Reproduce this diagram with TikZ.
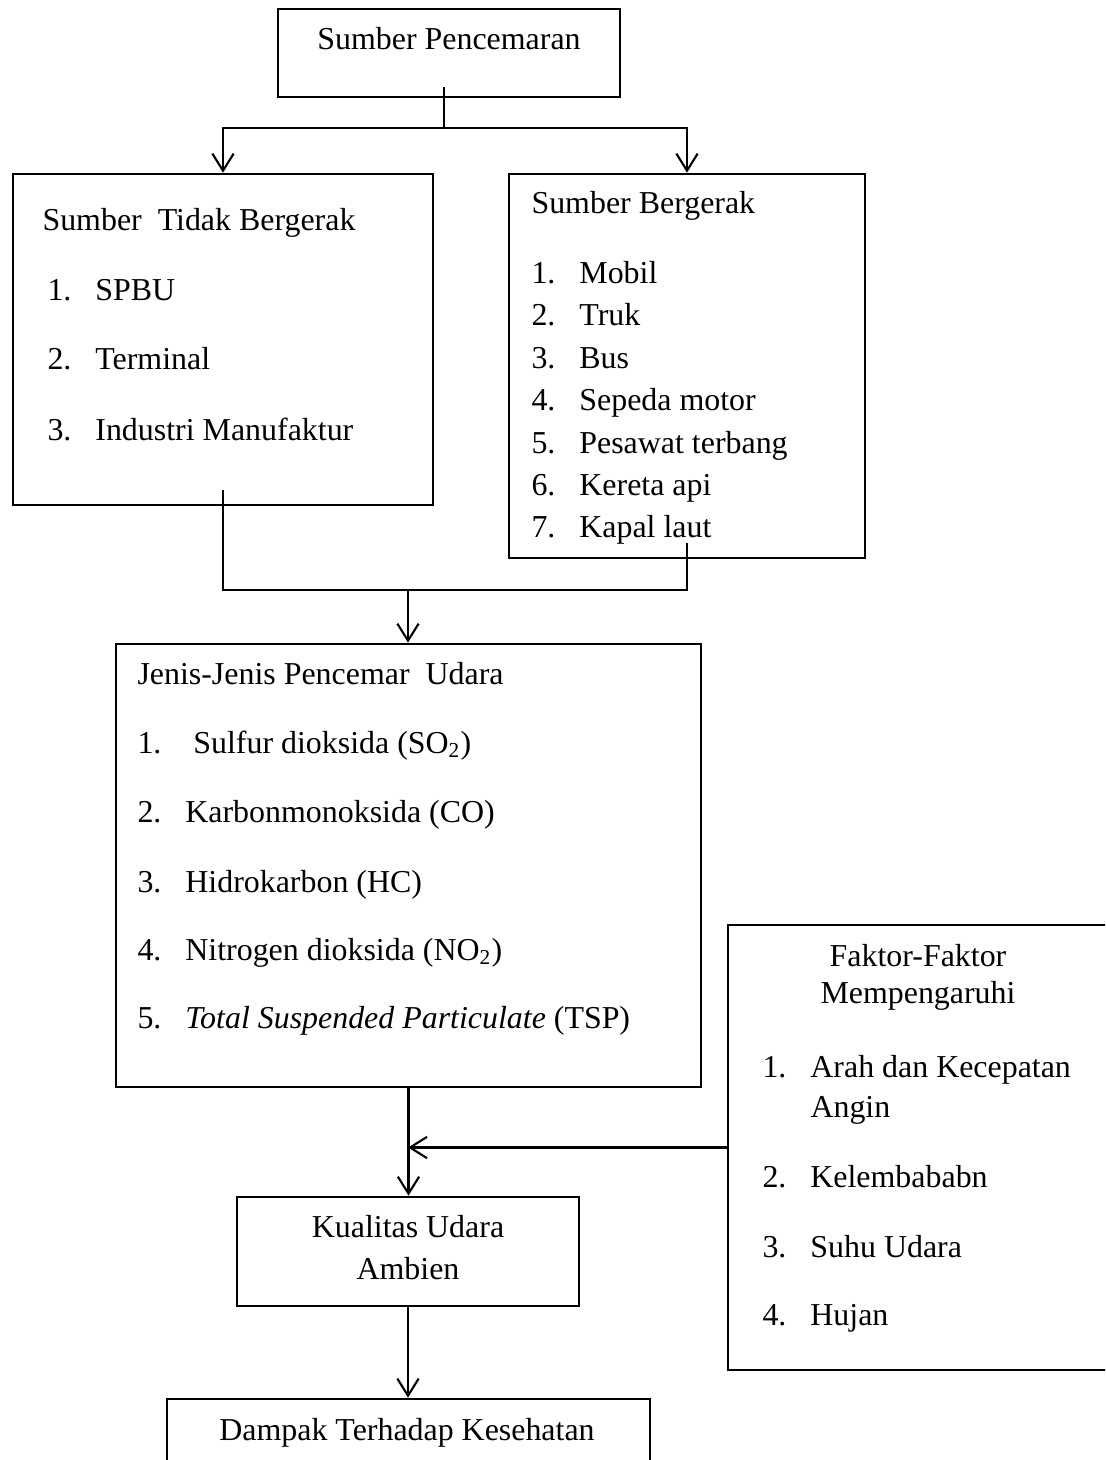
\documentclass[tikz,border=0pt]{standalone}
\usepackage{fontspec}
\setmainfont{Liberation Serif}
\usepackage{tikz}
\usetikzlibrary{arrows.meta,fit,calc}
\newcommand{\itm}[2]{\makebox[18pt][l]{#1}#2}
\tikzset{
    box/.style={rectangle, draw, line width=1pt, inner sep=0pt},
    txt/.style={anchor=base west, inner sep=0pt, font=\fontsize{12}{14}\selectfont},
    ctxt/.style={anchor=base, inner sep=0pt, font=\fontsize{12}{14}\selectfont},
    ln/.style={line width=0.8pt},
    arr/.style={-{Straight Barb[length=6.4pt,width=8pt]}, line width=0.8pt},
}

\begin{document}
\begin{tikzpicture}[x=0.376pt, y=-0.376pt]
    \useasboundingbox (0,0) rectangle (1105,1460);
    \clip (0,0) rectangle (1105,1460);

    % boxes
    \node[box, fit={(278,9) (620,97)}]       (src)    {};
    \node[box, fit={(13,174) (433,505)}]     (tdk)    {};
    \node[box, fit={(509,174) (865,558)}]    (grk)    {};
    \node[box, fit={(116,644) (701,1087)}]   (jenis)  {};
    \node[box, fit={(728,925) (1130,1370)}]  (faktor) {};
    \node[box, fit={(237,1197) (579,1306)}]  (kual)   {};
    \node[box, fit={(167,1399) (650,1490)}]  (dampak) {};

    % texts
    \node[ctxt] (src-t) at (449,49) {Sumber Pencemaran};

    \node[txt] (tdk-t) at (42,230)  {Sumber\ \ Tidak Bergerak};
    \node[txt] (tdk-1) at (47,300)  {\itm{1.}{SPBU}};
    \node[txt] (tdk-2) at (47,369)  {\itm{2.}{Terminal}};
    \node[txt] (tdk-3) at (47,440)  {\itm{3.}{Industri Manufaktur}};

    \node[txt] (grk-t) at (531,213) {Sumber Bergerak};
    \node[txt] (grk-1) at (531,283) {\itm{1.}{Mobil}};
    \node[txt] (grk-2) at (531,325) {\itm{2.}{Truk}};
    \node[txt] (grk-3) at (531,368) {\itm{3.}{Bus}};
    \node[txt] (grk-4) at (531,410) {\itm{4.}{Sepeda motor}};
    \node[txt] (grk-5) at (531,453) {\itm{5.}{Pesawat terbang}};
    \node[txt] (grk-6) at (531,495) {\itm{6.}{Kereta api}};
    \node[txt] (grk-7) at (531,537) {\itm{7.}{Kapal laut}};

    \node[txt] (jenis-t) at (137,684)  {Jenis-Jenis Pencemar\ \ Udara};
    \node[txt] (jenis-1) at (137,753)  {\itm{1.}{\ Sulfur dioksida (SO\textsubscript{2})}};
    \node[txt] (jenis-2) at (137,822)  {\itm{2.}{Karbonmonoksida (CO)}};
    \node[txt] (jenis-3) at (137,892)  {\itm{3.}{Hidrokarbon (HC)}};
    \node[txt] (jenis-4) at (137,960)  {\itm{4.}{Nitrogen dioksida (NO\textsubscript{2})}};
    \node[txt] (jenis-5) at (137,1028) {\itm{5.}{\textit{Total Suspended Particulate} (TSP)}};

    \node[ctxt] (faktor-t1) at (918,966)  {Faktor-Faktor};
    \node[ctxt] (faktor-t2) at (918,1003) {Mempengaruhi};
    \node[txt]  (faktor-1)  at (762,1077) {\itm{1.}{Arah dan Kecepatan}};
    \node[txt]  (faktor-1b) at (810,1117) {Angin};
    \node[txt]  (faktor-2)  at (762,1187) {\itm{2.}{Kelembababn}};
    \node[txt]  (faktor-3)  at (762,1257) {\itm{3.}{Suhu Udara}};
    \node[txt]  (faktor-4)  at (762,1325) {\itm{4.}{Hujan}};

    \node[ctxt] (kual-t1) at (408,1237) {Kualitas Udara};
    \node[ctxt] (kual-t2) at (408,1279) {Ambien};

    \node[ctxt] (dampak-t) at (407,1440) {Dampak Terhadap Kesehatan};

    % connectors
    \coordinate (srcout) at (444,87);
    \coordinate (jct1)   at (444,128);
    \coordinate (tdkout) at (223,490);
    \coordinate (grkout) at (687,543);
    \coordinate (jct2)   at (408,590);

    \draw[ln]  (srcout) -- (jct1);
    \draw[arr] (jct1) -| (tdk.north);
    \draw[arr] (jct1) -| (grk.north);

    \draw[ln]  (tdkout) -- (tdkout |- jct2) -| (grkout);
    \draw[arr] (jct2) -- (jct2 |- jenis.north);

    \draw[arr] (jenis.south) -- (jenis.south |- kual.north);
    \draw[arr] (faktor.west) -- (faktor.west -| kual.north);
    \draw[arr] (kual.south) -- (kual.south |- dampak.north);
\end{tikzpicture}
\end{document}
